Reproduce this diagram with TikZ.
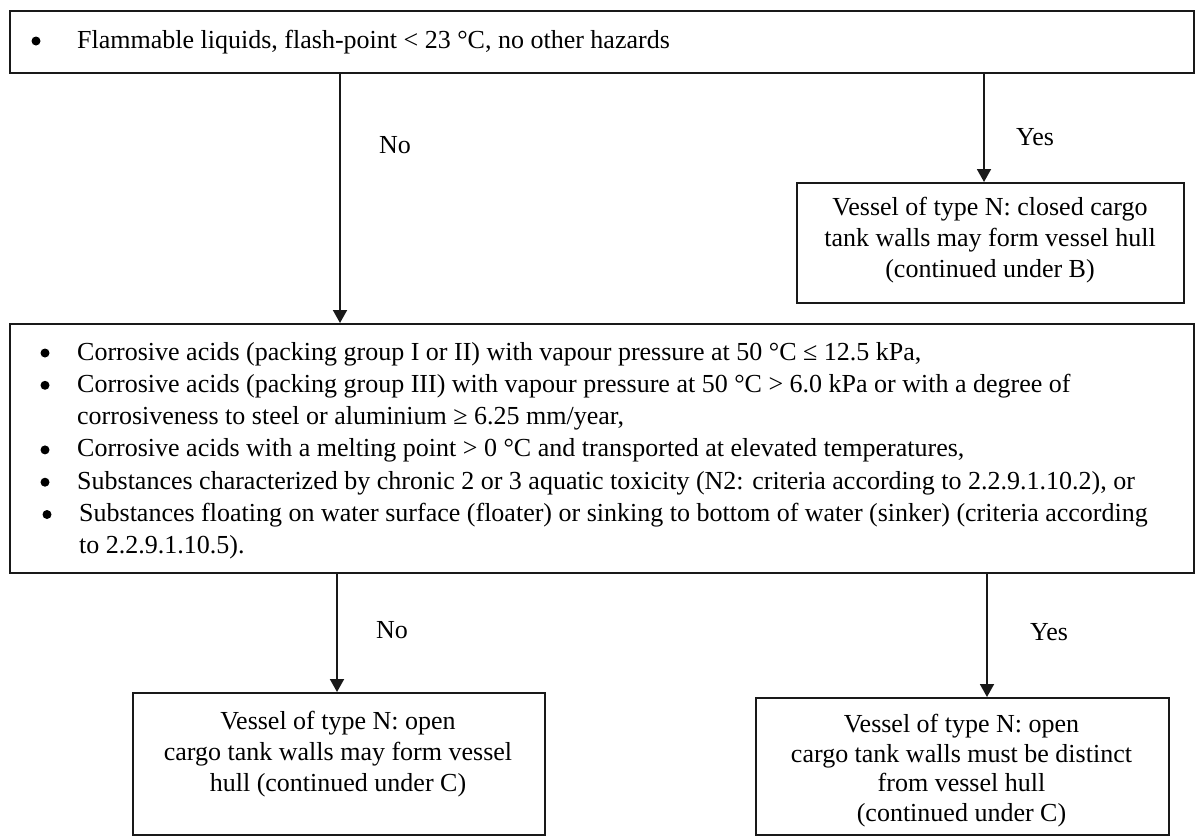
\documentclass[tikz,border=0pt]{standalone}
\usepackage{fontspec}
\setmainfont{Liberation Serif}
\usetikzlibrary{arrows.meta,calc}
\begin{document}
\begin{tikzpicture}[x=1pt,y=-1pt,
  box/.style={draw=black!90, line width=1.9pt, rectangle, inner sep=0pt, anchor=north west},
  txt/.style={font=\fontsize{26}{31}\selectfont, inner sep=0pt, align=center},
  ltxt/.style={font=\fontsize{26}{31}\selectfont, inner sep=0pt, anchor=base west},
  lbl/.style={font=\fontsize{26}{31}\selectfont, inner sep=0pt},
  bul/.style={circle, fill=black, inner sep=0pt, minimum size=9pt},
  arr/.style={draw=black!90, line width=1.9pt, -{Triangle[width=14pt,length=13pt]}}]
\useasboundingbox[fill=white] (0,0) rectangle (1197,836);

% boxes
\node[box, minimum width=1184pt, minimum height=62pt] (top) at (9,10) {};
\node[box, minimum width=387pt, minimum height=120pt] (boxB) at (796,182) {};
\node[box, minimum width=1184pt, minimum height=249pt] (big) at (9,323) {};
\node[box, minimum width=412pt, minimum height=142pt] (lbox) at (132,692) {};
\node[box, minimum width=413pt, minimum height=137pt] (ybox) at (755,697) {};

% top box text
\node[bul] (tb) at (36,41) {};
\node[ltxt] (tt) at (77,48.5) {Flammable liquids, flash-point < 23 °C, no other hazards};

% box B text
\node[txt] (bt) at (990,240) {Vessel of type N: closed cargo\\tank walls may form vessel hull\\(continued under B)};

% big box text
\node[bul] (b1) at (45,353) {};
\node[ltxt] (l1) at (77,360) {Corrosive acids (packing group I or II) with vapour pressure at 50 °C ≤ 12.5 kPa,};
\node[bul] (b2) at (45,385.3) {};
\node[ltxt] (l2) at (77,392.3) {Corrosive acids (packing group III) with vapour pressure at 50 °C > 6.0 kPa or with a degree of};
\node[ltxt] (l3) at (77,424.6) {corrosiveness to steel or aluminium ≥ 6.25 mm/year,};
\node[bul] (b4) at (45,449.9) {};
\node[ltxt] (l4) at (77,456.9) {Corrosive acids with a melting point > 0 °C and transported at elevated temperatures,};
\node[bul] (b5) at (45,482.2) {};
\node[ltxt] (l5) at (77,489.2) {Substances characterized by chronic 2 or 3 aquatic toxicity (N2: criteria according to 2.2.9.1.10.2), or};
\node[bul] (b6) at (47,514.5) {};
\node[ltxt] (l6) at (79,521.5) {Substances floating on water surface (floater) or sinking to bottom of water (sinker) (criteria according};
\node[ltxt] (l7) at (79,553.8) {to 2.2.9.1.10.5).};

% bottom boxes text
\node[txt] (lt) at (338,754) {Vessel of type N: open\\cargo tank walls may form vessel\\hull (continued under C)};
\node[txt, font=\fontsize{26}{29.5}\selectfont] (yt) at (961.5,770.5) {Vessel of type N: open\\cargo tank walls must be distinct\\from vessel hull\\(continued under C)};

% connectors
\draw[arr] ($(top.south west)+(331,0)$) -- ($(big.north west)+(331,0)$);
\draw[arr] ($(top.south west)+(975,0)$) -- ($(boxB.north west)+(188,0)$);
\draw[arr] ($(big.south west)+(328,0)$) -- ($(lbox.north west)+(205,0)$);
\draw[arr] ($(big.south west)+(978,0)$) -- ($(ybox.north west)+(232,0)$);

% labels
\node[lbl] (no1) at (395,145) {No};
\node[lbl] (yes1) at (1035,137) {Yes};
\node[lbl] (no2) at (392,630) {No};
\node[lbl] (yes2) at (1049,632) {Yes};
\end{tikzpicture}
\end{document}
